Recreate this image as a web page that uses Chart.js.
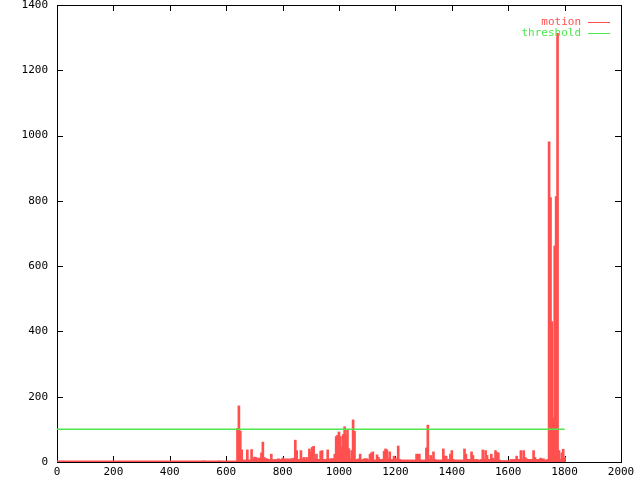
<!DOCTYPE html>
<html>
<head>
<meta charset="utf-8">
<script src="https://cdn.jsdelivr.net/npm/chart.js@4"></script>
<style>
  html, body { margin: 0; padding: 0; background: #fff; }
</style>
</head>
<body>
<canvas id="motionChart" width="640" height="480"></canvas>
<script>
// motion value per frame, one entry every frameStep frames starting at frame 0
const frameStep = 5;
const motion = [
  0,0,0,0,0,0,0,0,0,0,
  0,0,0,0,0,0,0,0,0,0,
  0,0,0,0,0,0,0,0,0,0,
  0,0,0,0,0,0,0,0,0,0,
  0,0,0,0,0,0,0,0,0,0,
  0,0,0,0,0,0,0,0,0,0,
  0,0,0,0,0,0,0,0,0,0,
  0,0,0,0,0,0,0,0,0,0,
  0,0,0,0,0,0,0,0,0,0,
  0,0,0,0,0,0,0,0,0,0,
  0,0,0,0,4,0,0,0,0,0,
  0,0,0,0,0,4,0,0,0,0,
  0,0,0,0,0,0,0,0,103,172,
  95,37,6,6,6,37,6,6,38,8,
  15,14,10,12,12,28,61,14,10,10,
  7,8,24,7,7,8,7,10,8,8,
  12,8,10,8,10,8,10,10,12,67,
  35,8,8,35,8,14,8,14,8,40,
  31,45,48,8,24,8,8,33,35,8,
  8,8,37,8,10,10,10,24,78,82,
  92,78,45,84,108,82,98,41,10,35,
  129,94,8,8,10,24,6,8,10,10,
  10,6,24,28,31,6,6,22,14,8,
  8,8,33,40,37,10,31,8,8,18,
  12,8,49,8,6,6,6,6,6,6,
  6,6,6,6,6,24,24,24,6,6,
  6,6,43,113,8,20,8,31,8,6,
  6,6,6,6,40,18,18,8,8,24,
  35,8,6,6,6,6,6,6,6,40,
  24,8,8,8,31,20,8,6,8,6,
  6,8,37,8,35,20,8,8,24,12,
  8,35,29,28,6,4,4,4,4,4,
  4,4,8,8,8,8,18,8,8,35,
  10,35,14,10,8,8,8,8,35,14,
  8,8,8,12,8,10,6,6,8,981,
  810,430,135,662,813,1313,35,8,28,39,
  14
];
const thresholdValue = 100;
const thresholdFrames = [0, 1800];

const xTicks = [0, 200, 400, 600, 800, 1000, 1200, 1400, 1600, 1800, 2000];
const yTicks = [0, 200, 400, 600, 800, 1000, 1200, 1400];

const RED = '#ff5050';
const GREEN = '#4de84d';
const FONT = { family: '"DejaVu Sans Mono", monospace', size: 11 };

// gnuplot style box with inward ticks on all sides
const frame = {
  id: 'frame',
  beforeDatasetsDraw(chart) {
    const { ctx, chartArea: a, scales } = chart;
    ctx.save();
    ctx.strokeStyle = '#000';
    ctx.lineWidth = 1;
    ctx.strokeRect(Math.round(a.left) + 0.5, Math.round(a.top) + 0.5,
      Math.round(a.right - a.left), Math.round(a.bottom - a.top));
    ctx.beginPath();
    xTicks.forEach(v => {
      const x = Math.round(scales.x.getPixelForValue(v)) + 0.5;
      ctx.moveTo(x, a.bottom); ctx.lineTo(x, a.bottom - 6);
      ctx.moveTo(x, a.top); ctx.lineTo(x, a.top + 6);
    });
    yTicks.forEach(v => {
      const y = Math.round(scales.y.getPixelForValue(v)) + 0.5;
      ctx.moveTo(a.left, y); ctx.lineTo(a.left + 6, y);
      ctx.moveTo(a.right, y); ctx.lineTo(a.right - 6, y);
    });
    ctx.stroke();
    ctx.restore();
  },
  afterDraw(chart) {
    const { ctx, chartArea: a } = chart;
    const items = [['motion', RED], ['threshold', GREEN]];
    ctx.save();
    ctx.font = '11px ' + FONT.family;
    ctx.textAlign = 'right';
    ctx.textBaseline = 'middle';
    items.forEach(([label, color], i) => {
      const y = a.top + 17 + i * 11;
      ctx.fillStyle = color;
      ctx.fillText(label, a.right - 40, y);
      ctx.strokeStyle = color;
      ctx.lineWidth = 1;
      ctx.beginPath();
      ctx.moveTo(a.right - 33, Math.round(y) + 0.5);
      ctx.lineTo(a.right - 11, Math.round(y) + 0.5);
      ctx.stroke();
    });
    ctx.restore();
  }
};

const ctx = document.getElementById('motionChart').getContext('2d');
new Chart(ctx, {
  type: 'bar',
  data: {
    datasets: [
      {
        label: 'motion',
        data: motion.map((v, i) => ({ x: i * frameStep, y: v })),
        backgroundColor: RED,
        borderWidth: 0,
        barThickness: 2,
        minBarLength: 1,
        order: 2
      },
      {
        type: 'line',
        label: 'threshold',
        data: thresholdFrames.map(f => ({ x: f, y: thresholdValue })),
        borderColor: GREEN,
        borderWidth: 1.5,
        pointRadius: 0,
        fill: false,
        order: 1
      }
    ]
  },
  options: {
    responsive: false,
    animation: false,
    layout: { autoPadding: false, padding: { top: 5, right: 19, left: 0, bottom: 0 } },
    plugins: {
      legend: { display: false },
      tooltip: { enabled: false }
    },
    scales: {
      x: {
        type: 'linear',
        min: 0,
        max: 2000,
        offset: false,
        grid: { display: false, offset: false, tickLength: 0 },
        border: { display: false },
        afterBuildTicks: s => { s.ticks = xTicks.map(v => ({ value: v })); },
        ticks: { color: '#000', font: FONT, padding: 4, maxRotation: 0, callback: v => String(v) },
        afterFit: s => { s.height = 18; s.paddingLeft = 0; s.paddingRight = 0; }
      },
      y: {
        min: 0,
        max: 1400,
        grid: { display: false, tickLength: 0 },
        border: { display: false },
        afterBuildTicks: s => { s.ticks = yTicks.map(v => ({ value: v })); },
        ticks: { color: '#000', font: FONT, padding: 9, callback: v => String(v) },
        afterFit: s => { s.width = 57; s.paddingTop = 0; s.paddingBottom = 0; }
      }
    }
  },
  plugins: [frame]
});
</script>
</body>
</html>
